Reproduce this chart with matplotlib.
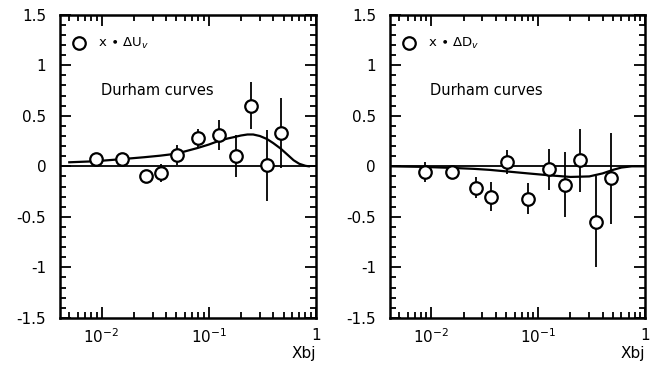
import matplotlib
matplotlib.use("Agg")
import matplotlib.pyplot as plt
from matplotlib.ticker import LogLocator, MultipleLocator, NullFormatter

# x bins (Bjorken x) of the measured points
xbj = [0.0088, 0.0155, 0.026, 0.036, 0.051, 0.08, 0.126, 0.178, 0.247, 0.35, 0.475]

# x * delta u_v
du_val = [0.07, 0.07, -0.10, -0.07, 0.11, 0.28, 0.31, 0.10, 0.60, 0.01, 0.33]
du_err = [0.03, 0.03, 0.04, 0.09, 0.10, 0.09, 0.15, 0.21, 0.23, 0.35, 0.35]

# x * delta d_v
dd_val = [-0.06, -0.06, -0.21, -0.30, 0.04, -0.32, -0.03, -0.18, 0.06, -0.55, -0.12]
dd_err = [0.10, 0.03, 0.10, 0.14, 0.12, 0.15, 0.20, 0.32, 0.31, 0.45, 0.45]

# Durham parametrisation curves
cu_x = [0.005, 0.0087, 0.015, 0.025, 0.035, 0.05, 0.078, 0.1, 0.123, 0.15, 0.174,
        0.2, 0.23, 0.26, 0.3, 0.35, 0.4, 0.47, 0.55, 0.62, 0.7, 0.8, 0.86]
cu_y = [0.04, 0.05, 0.07, 0.09, 0.105, 0.125, 0.18, 0.215, 0.25, 0.275, 0.29,
        0.305, 0.315, 0.315, 0.30, 0.27, 0.23, 0.175, 0.11, 0.06, 0.025, 0.005, 0.0]

cd_x = [0.004, 0.008, 0.015, 0.025, 0.035, 0.05, 0.08, 0.13, 0.2, 0.3,
        0.4, 0.5, 0.6, 0.75, 1.0]
cd_y = [0.0, -0.005, -0.015, -0.025, -0.035, -0.05, -0.07, -0.09, -0.105, -0.10,
        -0.07, -0.035, -0.012, 0.0, 0.0]

plt.rcParams['font.family'] = 'DejaVu Sans'
plt.rcParams['mathtext.fontset'] = 'dejavusans'

fig = plt.figure(figsize=(6.56, 3.78), dpi=100)
ax1 = fig.add_axes([0.0915, 0.159, 0.390, 0.802])
ax2 = fig.add_axes([0.5945, 0.159, 0.389, 0.802])

panels = [
    (ax1, du_val, du_err, cu_x, cu_y, r'x $\bullet$ $\Delta$U$_v$'),
    (ax2, dd_val, dd_err, cd_x, cd_y, r'x $\bullet$ $\Delta$D$_v$'),
]

for ax, val, err, cx, cy, lab in panels:
    ax.set_xscale('log')
    ax.set_xlim(0.0041, 1)
    ax.set_ylim(-1.5, 1.5)

    ax.axhline(0, color='black', lw=1.3, zorder=1)
    ax.plot(cx, cy, color='black', lw=1.6, zorder=2)
    ax.errorbar(xbj, val, yerr=err, fmt='o', ms=9, mfc='white', mec='black',
                mew=1.6, ecolor='black', elinewidth=1.3, capsize=0, zorder=3)

    # legend entry and caption
    ax.plot([0.0062], [1.22], 'o', ms=9, mfc='white', mec='black', mew=1.6)
    ax.text(0.0092, 1.22, lab, fontsize=9.5, va='center')
    ax.text(0.0098, 0.75, 'Durham curves', fontsize=10.5, va='center')

    ax.set_xticks([0.01, 0.1, 1])
    ax.set_xticklabels([r'$10^{-2}$', r'$10^{-1}$', '1'])
    ax.xaxis.set_minor_locator(LogLocator(base=10, subs=range(2, 10)))
    ax.xaxis.set_minor_formatter(NullFormatter())
    ax.set_yticks([-1.5, -1, -0.5, 0, 0.5, 1, 1.5])
    ax.set_yticklabels(['-1.5', '-1', '-0.5', '0', '0.5', '1', '1.5'])
    ax.yaxis.set_minor_locator(MultipleLocator(0.1))

    ax.tick_params(which='both', direction='in', top=True, right=True,
                   width=1.3, labelsize=11)
    ax.tick_params(which='major', length=8)
    ax.tick_params(which='minor', length=4)
    ax.tick_params(axis='y', pad=10)
    ax.tick_params(axis='x', pad=7)
    for sp in ax.spines.values():
        sp.set_linewidth(1.8)

    ax.set_xlabel('Xbj', loc='right', fontsize=11, labelpad=0)

fig.savefig('out.png', dpi=100)
